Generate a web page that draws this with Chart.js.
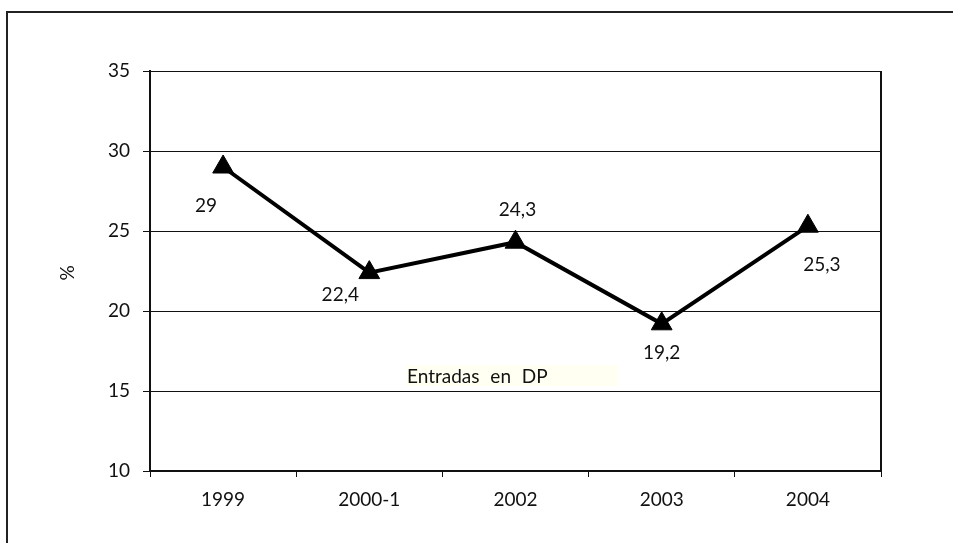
<!DOCTYPE html>
<html>
<head>
<meta charset="utf-8">
<script src="https://cdn.jsdelivr.net/npm/chart.js@4"></script>
<style>
  body { margin: 0; background: #fff; overflow: hidden; }
  #frame { position: absolute; left: 6px; top: 11px; width: 1000px; height: 600px; border: 2px solid #222; }
  #wrap { position: absolute; left: 0; top: 0; width: 953px; height: 543px; }
</style>
</head>
<body>
<div id="frame"></div>
<div id="wrap"><canvas id="chart"></canvas></div>
<script>
const years = ["1999", "2000-1", "2002", "2003", "2004"];
const entradas = [29, 22.4, 24.3, 19.2, 25.3];
const valueLabels = ["29", "22,4", "24,3", "19,2", "25,3"];
const seriesName = "Entradas en DP";
const yMin = 10, yMax = 35, yStep = 5;

// where each value label sits relative to its marker
const labelOffsets = [[-17, 39], [-29, 22], [2, -32], [0, 29], [14, 39]];

const FONT = "Lato, 'Open Sans', sans-serif";
const FSIZE = 19;

const extras = {
    id: 'extras',
    afterDraw(chart) {
        const ctx = chart.ctx;
        const area = chart.chartArea;
        const meta = chart.getDatasetMeta(0);
        ctx.save();

        // right border of plot area
        ctx.strokeStyle = '#111';
        ctx.lineWidth = 2;
        ctx.beginPath();
        ctx.moveTo(area.right, area.top);
        ctx.lineTo(area.right, area.bottom);
        ctx.stroke();

        // value labels
        ctx.fillStyle = '#111';
        ctx.font = FSIZE + "px " + FONT;
        ctx.textAlign = 'center';
        ctx.textBaseline = 'middle';
        meta.data.forEach((pt, i) => {
            ctx.fillText(valueLabels[i], pt.x + labelOffsets[i][0], pt.y + labelOffsets[i][1]);
        });

        // series name box
        ctx.fillStyle = '#fffff2';
        ctx.fillRect(406, 365, 212, 21);
        ctx.fillStyle = '#111';
        ctx.textAlign = 'left';
        ctx.wordSpacing = '6px';
        ctx.fillText(seriesName, 407, 377);
        ctx.wordSpacing = '0px';

        // y axis title
        ctx.translate(68, 273);
        ctx.rotate(-Math.PI / 2);
        ctx.textAlign = 'center';
        ctx.fillText('%', 0, 0);
        ctx.restore();
    }
};

window.onload = () => {
    const ctx = document.getElementById("chart").getContext('2d');
    new Chart(ctx, {
        type: 'line',
        data: {
            labels: years,
            datasets: [{
                label: seriesName,
                data: entradas,
                borderColor: '#000',
                backgroundColor: '#000',
                borderWidth: 4,
                pointStyle: 'triangle',
                pointRadius: 12,
                pointBorderWidth: 1,
                pointBackgroundColor: '#000',
                tension: 0
            }]
        },
        options: {
            responsive: true,
            maintainAspectRatio: false,
            animation: false,
            layout: { padding: { top: 71, right: 72, left: 0, bottom: 0 } },
            plugins: {
                legend: { display: false },
                tooltip: { enabled: false }
            },
            scales: {
                x: {
                    offset: true,
                    grid: { offset: true, drawOnChartArea: false, color: '#111', tickLength: 6, lineWidth: 1 },
                    border: { color: '#111', width: 2 },
                    ticks: { color: '#111', font: { family: FONT, size: FSIZE }, padding: 11, maxRotation: 0 },
                    afterFit(s) { s.height = 72; }
                },
                y: {
                    min: yMin,
                    max: yMax,
                    grid: { color: '#111', tickLength: 7, lineWidth: 1 },
                    border: { color: '#111', width: 2 },
                    ticks: { stepSize: yStep, color: '#111', font: { family: FONT, size: FSIZE }, padding: 13 },
                    afterFit(s) { s.width = 150; }
                }
            }
        },
        plugins: [extras]
    });
};
</script>
</body>
</html>
